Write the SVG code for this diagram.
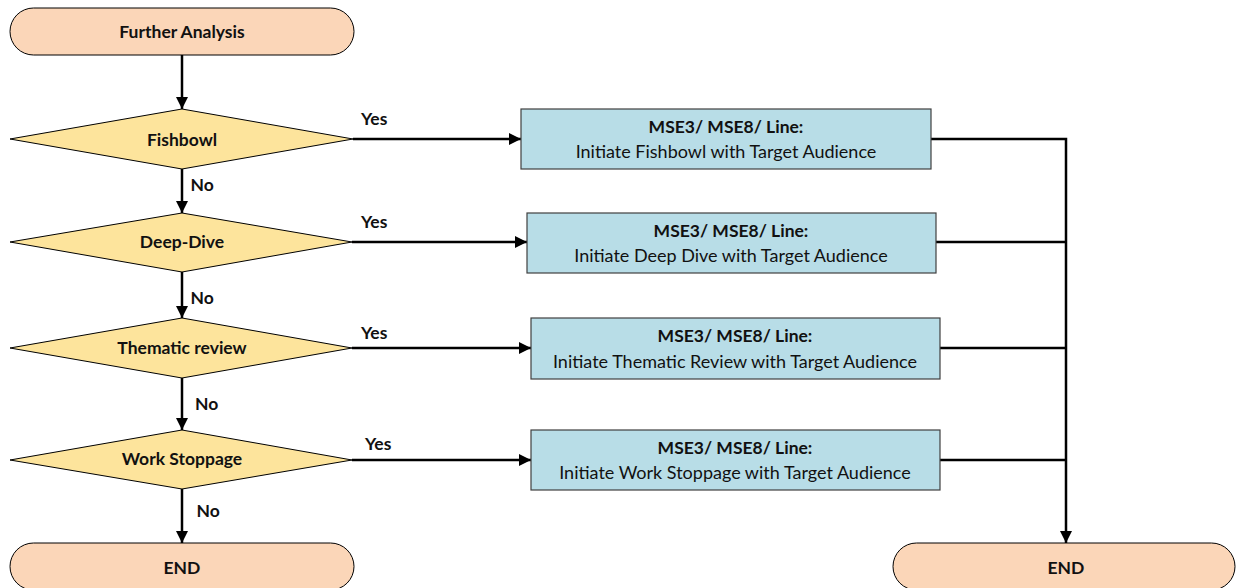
<svg xmlns="http://www.w3.org/2000/svg" width="1236" height="588" viewBox="0 0 1236 588">
  <style>
    .term { fill: #FBD6B8; stroke: #000; stroke-width: 1; }
    .dec { fill: #FDE49C; stroke: #000; stroke-width: 1; }
    .proc { fill: #B8DDE7; stroke: #404040; stroke-width: 1.2; }
    .lbl { font-family: Lato, "Liberation Sans", sans-serif; font-size: 17.5px; font-weight: bold; fill: #111; text-anchor: middle; }
    .tag { font-family: Lato, "Liberation Sans", sans-serif; font-size: 17.5px; font-weight: bold; fill: #111; }
    .body { font-family: Lato, "Liberation Sans", sans-serif; font-size: 18px; fill: #111; text-anchor: middle; }
    .wire { fill: none; stroke: #000; stroke-width: 2.5; }
  </style>
  <defs>
    <marker id="arrow" viewBox="0 0 10 10" refX="10" refY="5" markerWidth="5" markerHeight="5" orient="auto" markerUnits="strokeWidth">
      <path d="M0,0 L10,5 L0,10 z" fill="#000"/>
    </marker>
  </defs>
  <rect width="1236" height="588" fill="#fff"/>

  <!-- connectors -->
  <g id="connectors">
    <line class="wire" x1="182" y1="55" x2="182" y2="109" marker-end="url(#arrow)"/>
    <line class="wire" x1="182" y1="169" x2="182" y2="213" marker-end="url(#arrow)"/>
    <line class="wire" x1="182" y1="272" x2="182" y2="318" marker-end="url(#arrow)"/>
    <line class="wire" x1="182" y1="378" x2="182" y2="430" marker-end="url(#arrow)"/>
    <line class="wire" x1="182" y1="489" x2="182" y2="543" marker-end="url(#arrow)"/>

    <line class="wire" x1="353" y1="139" x2="521" y2="139" marker-end="url(#arrow)"/>
    <line class="wire" x1="352" y1="242" x2="527" y2="242" marker-end="url(#arrow)"/>
    <line class="wire" x1="352" y1="348" x2="531" y2="348" marker-end="url(#arrow)"/>
    <line class="wire" x1="352" y1="460" x2="531" y2="460" marker-end="url(#arrow)"/>

    <polyline class="wire" points="931,139 1066,139 1066,543" marker-end="url(#arrow)"/>
    <line class="wire" x1="936" y1="242" x2="1066" y2="242"/>
    <line class="wire" x1="940" y1="348" x2="1066" y2="348"/>
    <line class="wire" x1="940" y1="460" x2="1066" y2="460"/>

    <text class="tag" x="361" y="125">Yes</text>
    <text class="tag" x="361" y="228">Yes</text>
    <text class="tag" x="361" y="338.5">Yes</text>
    <text class="tag" x="365" y="450">Yes</text>
    <text class="tag" x="190.5" y="191">No</text>
    <text class="tag" x="190.5" y="304">No</text>
    <text class="tag" x="195" y="409.5">No</text>
    <text class="tag" x="196.5" y="516.5">No</text>
  </g>

  <g id="start">
    <rect class="term" x="10" y="8" width="344" height="47" rx="23.5"/>
    <text class="lbl" x="182" y="38">Further Analysis</text>
  </g>

  <g id="fishbowl">
    <polygon class="dec" points="10,139 182,109 353,139 182,169"/>
    <text class="lbl" x="182" y="145.5">Fishbowl</text>
  </g>
  <g id="deep-dive">
    <polygon class="dec" points="10,242 182,213 352,242 182,272"/>
    <text class="lbl" x="182" y="247.5">Deep-Dive</text>
  </g>
  <g id="thematic-review">
    <polygon class="dec" points="10,348 182,318 352,348 182,378"/>
    <text class="lbl" x="182" y="354">Thematic review</text>
  </g>
  <g id="work-stoppage">
    <polygon class="dec" points="10,460 182,430 352,460 182,489"/>
    <text class="lbl" x="182" y="465">Work Stoppage</text>
  </g>

  <g id="end-left">
    <rect class="term" x="10" y="543" width="344" height="47" rx="23.5"/>
    <text class="lbl" x="182" y="574">END</text>
  </g>

  <g id="act-fishbowl">
    <rect class="proc" x="521" y="109" width="410" height="60"/>
    <text class="lbl" x="726" y="132.5">MSE3/ MSE8/ Line:</text>
    <text class="body" x="726" y="157.5">Initiate Fishbowl with Target Audience</text>
  </g>
  <g id="act-deep-dive">
    <rect class="proc" x="527" y="213" width="409" height="60"/>
    <text class="lbl" x="731" y="236.5">MSE3/ MSE8/ Line:</text>
    <text class="body" x="731" y="261.5">Initiate Deep Dive with Target Audience</text>
  </g>
  <g id="act-thematic">
    <rect class="proc" x="531" y="318" width="409" height="61"/>
    <text class="lbl" x="735" y="342">MSE3/ MSE8/ Line:</text>
    <text class="body" x="735" y="367.5">Initiate Thematic Review with Target Audience</text>
  </g>
  <g id="act-work-stoppage">
    <rect class="proc" x="531" y="430" width="409" height="60"/>
    <text class="lbl" x="735" y="453.5">MSE3/ MSE8/ Line:</text>
    <text class="body" x="735" y="479">Initiate Work Stoppage with Target Audience</text>
  </g>

  <g id="end-right">
    <rect class="term" x="893" y="543" width="342" height="47" rx="23.5"/>
    <text class="lbl" x="1066" y="574">END</text>
  </g>
</svg>
